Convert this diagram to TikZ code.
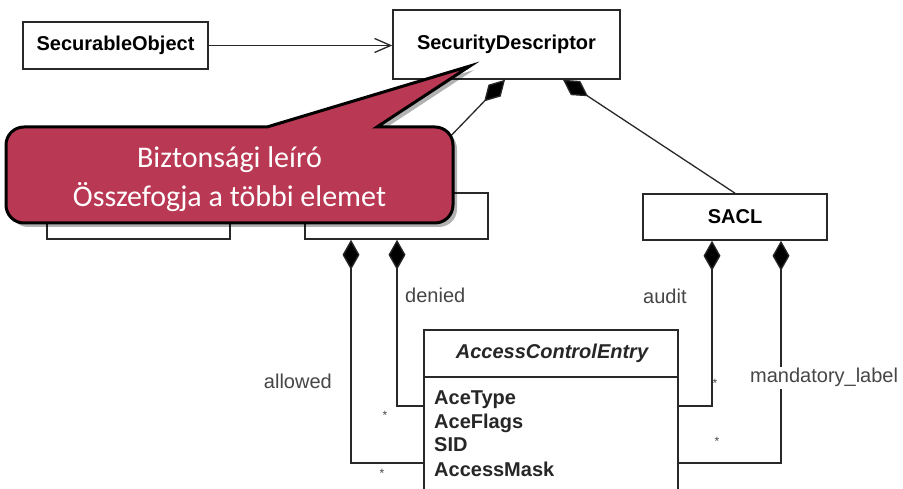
\documentclass[tikz,border=0pt]{standalone}
\usepackage{fontspec}
\setmainfont{Liberation Sans}
\newfontfamily\calfont{Carlito}
\usetikzlibrary{arrows.meta}
\definecolor{callred}{RGB}{185,56,84}
\definecolor{umlline}{RGB}{40,40,40}
\definecolor{lbl}{RGB}{70,70,70}
\begin{document}
\begin{tikzpicture}[x=1pt,y=1pt,
  classbox/.style={draw=umlline, line width=1.6pt, fill=white, inner sep=0pt,
    font=\fontsize{20}{23}\selectfont\bfseries},
  lab/.style={font=\fontsize{20}{23}\selectfont, text=lbl, inner sep=1pt},
  attr/.style={font=\fontsize{20}{23}\selectfont\bfseries, text=black!85, inner sep=0pt, anchor=base west},
  star/.style={font=\fontsize{12}{12}\selectfont, text=lbl, inner sep=0pt},
  conn/.style={draw=umlline, line width=1.3pt},
  comp/.style={conn, {Diamond[length=30pt,width=17pt,fill=black]}-},
  calloutshape/.style={fill=callred, draw=black, line width=3pt, line join=miter}
]
\useasboundingbox[fill=white] (0,0) rectangle (903,489);
\begin{scope}
\clip (0,0) rectangle (903,489);
% class boxes
\node[classbox, minimum width=185pt, minimum height=47pt] (so) at (115.5,443.5) {SecurableObject};
\node[classbox, minimum width=227pt, minimum height=69pt] (sd) at (506.5,444.5) {SecurityDescriptor};
\node[classbox, minimum width=183pt, minimum height=46pt] (owner) at (138.5,273) {};
\node[classbox, minimum width=183pt, minimum height=46pt] (dacl) at (396.5,273) {};
\node[classbox, minimum width=184pt, minimum height=46pt] (sacl) at (735,272) {SACL};
\node[draw=umlline, line width=1.6pt, fill=white, minimum width=254pt, minimum height=190pt, inner sep=0pt] (ace) at (551,64) {};
\draw[umlline, line width=1.6pt] (ace.west |- 0,112) -- (ace.east |- 0,112);
\node[font=\fontsize{20}{23}\selectfont\bfseries\itshape, text=black!85] (acehead) at (552,136) {AccessControlEntry};
\node[attr] (a1) at (434,84) {AceType};
\node[attr] (a2) at (434,60) {AceFlags};
\node[attr] (a3) at (434,37) {SID};
\node[attr] (a4) at (434,12) {AccessMask};
% connectors
\draw[conn, -{Straight Barb[length=16pt,width=14pt]}] (so.east) -- (so.east -| sd.west);
\draw[comp] (sd.south -| 505,0) -- (dacl.north);
\draw[comp] (sd.south -| 563,0) -- (sacl.north);
\draw[comp] (dacl.south -| 351,0) |- (ace.west |- 0,26);
\draw[comp] (dacl.south -| 397,0) |- (ace.west |- 0,83);
\draw[comp] (sacl.south -| 712,0) |- (ace.east |- 0,83);
\draw[comp] (sacl.south -| 781,0) |- (ace.east |- 0,26);
% labels
\node[lab, anchor=base west] (ldenied) at (404,186) {denied};
\node[lab, anchor=base east] (lallowed) at (333,100) {allowed};
\node[lab, anchor=base west] (laudit) at (642,185) {audit};
\node[lab, anchor=base west, fill=white, inner sep=2pt] (lmand) at (748,106) {mandatory\_label};
\node[star] (s1) at (385,74) {*};
\node[star] (s2) at (382,16) {*};
\node[star] (s3) at (715,106) {*};
\node[star] (s4) at (717,48) {*};
% callout
\path[fill=black, opacity=0.3, shift={(4,-4)}]
  (267,362) -- (470,423) -- (377,362) -- (435,362)
  arc[start angle=90,end angle=0,radius=18] -- (453,284)
  arc[start angle=0,end angle=-90,radius=18] -- (24,266)
  arc[start angle=270,end angle=180,radius=18] -- (6,344)
  arc[start angle=180,end angle=90,radius=18] -- cycle;
\path[calloutshape]
  (267,362) -- (470,423) -- (377,362) -- (435,362)
  arc[start angle=90,end angle=0,radius=18] -- (453,284)
  arc[start angle=0,end angle=-90,radius=18] -- (24,266)
  arc[start angle=270,end angle=180,radius=18] -- (6,344)
  arc[start angle=180,end angle=90,radius=18] -- cycle;
\node[text=white, font=\calfont\fontsize{30}{39}\selectfont, align=center] (ctext) at (229.5,310) {Biztonsági leíró\\Összefogja a többi elemet};
\end{scope}
\end{tikzpicture}
\end{document}
